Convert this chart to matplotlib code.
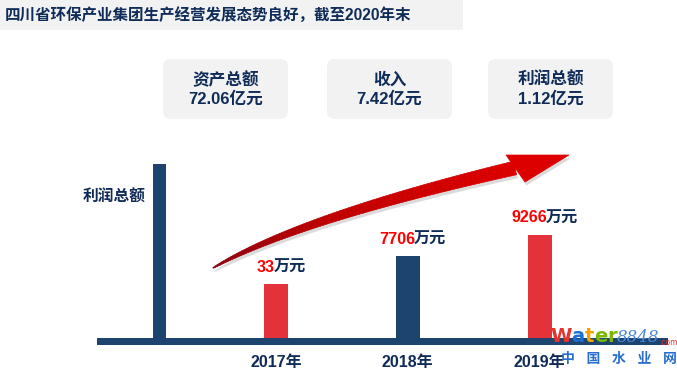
import numpy as np
import matplotlib.pyplot as plt
from matplotlib.patches import Rectangle, FancyBboxPatch, Polygon
from matplotlib.collections import PolyCollection
from matplotlib.colors import LinearSegmentedColormap

plt.rcParams['font.family'] = ['Liberation Sans', 'Noto Sans CJK SC', 'DejaVu Sans']

# ---- data ----
title = '四川省环保产业集团生产经营发展态势良好，截至2020年末'
card_names = ['资产总额', '收入', '利润总额']
card_values = ['72.06亿元', '7.42亿元', '1.12亿元']
years = ['2017年', '2018年', '2019年']
profit = ['33', '7706', '9266']          # 万元
bar_heights = [54, 82, 103]             # drawn heights (schematic, not to scale)
bar_colors = ['#e4323a', '#1d446e', '#e4323a']
ylabel = '利润总额'

NAVY = '#0f2b58'
RED = '#ff0000'
W, H = 677, 376

fig = plt.figure(figsize=(W/100, H/100), dpi=100)
ov = fig.add_axes([0, 0, 1, 1])
ov.set_xlim(0, W)
ov.set_ylim(H, 0)
ov.axis('off')

# title strip
ov.add_patch(Rectangle((0, 0), 463, 30, color='#f2f2f2', lw=0))
ov.text(5, 15, title, fontsize=11.2, fontweight='bold', color=NAVY, va='center', ha='left')

# cards
card_x = [163, 327, 488]
for x, name, val in zip(card_x, card_names, card_values):
    ov.add_patch(FancyBboxPatch((x + 8, 59 + 8), 125 - 16, 60 - 16,
                                boxstyle='round,pad=8', fc='#f2f2f2', ec='none'))
    ov.text(x + 62.5, 80, name, fontsize=12, fontweight='bold', color=NAVY, ha='center', va='center')
    ov.text(x + 62.5, 99, val, fontsize=12, fontweight='bold', color=NAVY, ha='center', va='center')

# bar axes (chart area)
left, right, top, base = 97, 668, 164, 338
bx = fig.add_axes([left/W, (H - base)/H, (right - left)/W, (base - top)/H])
step = 131.75
x0 = 276
bx.set_xlim(-(x0 - left)/step, 2 + (right - (x0 + 2*step))/step)
bx.set_ylim(0, base - top)
bx.axis('off')
xs = np.arange(len(years))
bx.bar(xs, bar_heights, width=24/step, color=bar_colors, zorder=2)

# axis bars
ov.add_patch(Rectangle((97, 338), 571, 7, color='#1d446e', lw=0, zorder=3))
ov.add_patch(Rectangle((153, 164), 13, 181, color='#1d446e', lw=0, zorder=3))
ov.text(114, 197, ylabel, fontsize=11.3, fontweight='bold', color=NAVY, ha='center', va='center')

# value labels + year labels
fig.canvas.draw()
r = fig.canvas.get_renderer()
for i, (v, h) in enumerate(zip(profit, bar_heights)):
    px, py = bx.transData.transform((xs[i], h))
    cx, cy = px + 5, H - py - 17
    tmp = ov.text(0, 0, v + '万元', fontsize=11.6, fontweight='bold')
    wfull = tmp.get_window_extent(r).width - 1
    tmp.remove()
    tn = ov.text(cx - wfull/2, cy, v, fontsize=11.6, fontweight='bold', color=RED,
                 ha='left', va='center')
    wn = tn.get_window_extent(r).width
    ov.text(cx - wfull/2 + wn - 1, cy, '万元', fontsize=11.6, fontweight='bold', color=NAVY,
            ha='left', va='center')
    yx, _ = bx.transData.transform((xs[i], 0))
    ov.text(yx, 362, years[i], fontsize=11.5, fontweight='bold', color=NAVY,
            ha='center', va='center')

# curved arrow
P0 = np.array([213., 268.])
P1 = np.array([300., 218.])
P2 = np.array([515., 168.])
t = np.linspace(0, 1, 80)
pts = ((1-t)**2)[:, None]*P0 + (2*t*(1-t))[:, None]*P1 + (t**2)[:, None]*P2
d = (2*(1-t))[:, None]*(P1 - P0) + (2*t)[:, None]*(P2 - P1)
d /= np.linalg.norm(d, axis=1)[:, None]
nrm = np.column_stack([d[:, 1], -d[:, 0]])
hw = 0.4 + 6.5*t**0.75
upper = pts + nrm*hw[:, None]
lower = pts - nrm*hw[:, None]
head = np.array([[506, 155], [569, 155], [525, 182]])

shadow = np.vstack([upper, lower[::-1]]) + [1.5, 3.5]
ov.add_patch(Polygon(shadow, closed=True, fc='#9a9a9a', ec='none', alpha=0.35, zorder=4))
ov.add_patch(Polygon(head + [1.5, 3.5], closed=True, fc='#9a9a9a', ec='none', alpha=0.35, zorder=4))

cmap = LinearSegmentedColormap.from_list('arr', ['#8a0010', '#c00000', '#dc0000'])
quads = [[upper[k], upper[k+1], lower[k+1], lower[k]] for k in range(len(t) - 1)]
ov.add_collection(PolyCollection(quads, facecolors=cmap(t[:-1]), edgecolors=cmap(t[:-1]),
                                 linewidths=0.5, zorder=5))
ov.add_patch(Polygon(head, closed=True, fc='#dc0000', ec='#dc0000', lw=0.5, zorder=5))

# watermark
wm = [('W', '#e8322f'), ('a', '#1b6fd1'), ('t', '#f5a300'), ('e', '#7ab800'), ('r', '#7ab800')]
prev = ov.text(550, 337, '', fontsize=14, fontweight='bold', va='center', zorder=6)
for ch, col in wm:
    prev = ov.annotate(ch, xy=(1, 0.5), xycoords=prev, fontsize=14, fontweight='bold',
                       color=col, va='center', ha='left', family='DejaVu Sans', zorder=6)
prev = ov.annotate('8848', xy=(1, 0.5), xycoords=prev, fontsize=12, style='italic',
                   color='#4a86d8', va='center', ha='left', family='DejaVu Serif', zorder=6)
ov.annotate('.com', xy=(1, 0.2), xycoords=prev, fontsize=5.5, color='#e8322f',
            va='center', ha='left', family='DejaVu Sans', zorder=6)
ov.text(619, 359, '中   国   水   业   网', fontsize=10, fontweight='bold', color='#2a6fd0',
        ha='center', va='center', zorder=6)

fig.savefig('out.png', dpi=100)
